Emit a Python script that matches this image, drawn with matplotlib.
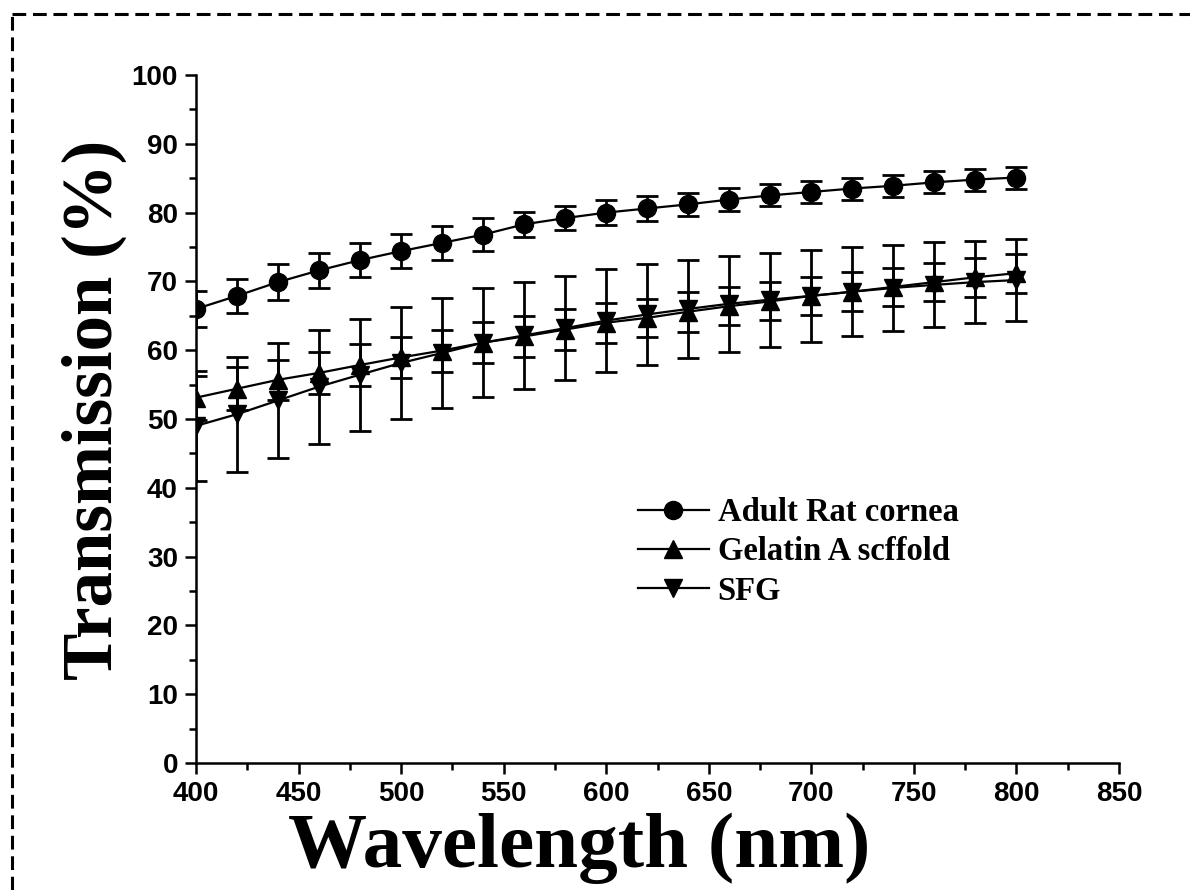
import matplotlib
matplotlib.use("Agg")
import matplotlib.pyplot as plt
from matplotlib.ticker import MultipleLocator
from matplotlib.lines import Line2D

wavelength = [400, 420, 440, 460, 480, 500, 520, 540, 560, 580, 600,
              620, 640, 660, 680, 700, 720, 740, 760, 780, 800]

rat = [66.0, 67.9, 69.9, 71.6, 73.1, 74.4, 75.6, 76.8, 78.3, 79.2, 80.0,
       80.6, 81.2, 81.9, 82.5, 83.0, 83.5, 83.9, 84.4, 84.8, 85.1]
rat_err = [2.6, 2.5, 2.6, 2.6, 2.5, 2.5, 2.5, 2.4, 1.8, 1.8, 1.8,
           1.8, 1.7, 1.7, 1.6, 1.6, 1.6, 1.6, 1.6, 1.6, 1.6]

gelatin = [53.1, 54.4, 55.7, 56.7, 57.85, 58.95, 59.95, 61.1, 62.0, 63.0, 64.0,
           64.7, 65.6, 66.4, 67.1, 67.9, 68.5, 69.2, 69.9, 70.6, 71.2]
gelatin_err = [3.2, 3.1, 2.9, 3.1, 3.05, 2.95, 3.05, 3.0, 3.0, 2.95, 2.9,
               2.8, 2.9, 2.8, 2.75, 2.8, 2.8, 2.75, 2.8, 2.85, 2.85]

sfg = [49.0, 50.7, 52.7, 54.7, 56.45, 58.15, 59.6, 61.1, 62.15, 63.2, 64.3,
       65.2, 66.0, 66.75, 67.35, 67.9, 68.5, 69.05, 69.5, 69.9, 70.2]
sfg_err = [8.0, 8.35, 8.4, 8.3, 8.15, 8.15, 8.0, 7.9, 7.8, 7.6, 7.45,
           7.3, 7.1, 6.95, 6.85, 6.7, 6.5, 6.25, 6.2, 6.0, 5.9]

labels = ["Adult Rat cornea", "Gelatin A scffold", "SFG"]
markers = ["o", "^", "v"]

fig = plt.figure(figsize=(11.9, 8.9), dpi=100)
ax = fig.add_axes([196/1190, 1-763/890, (1119-196)/1190, (763-75)/890])

series = [(rat, rat_err), (gelatin, gelatin_err), (sfg, sfg_err)]
for (vals, errs), m in zip(series, markers):
    ax.errorbar(wavelength, vals, yerr=errs, fmt="-", marker=m, color="black",
                markersize=13, linewidth=1.6, elinewidth=2.0, capsize=8,
                capthick=2.0, ecolor="black", zorder=3)

ax.set_xlim(400, 850)
ax.set_ylim(0, 100)
ax.xaxis.set_major_locator(MultipleLocator(50))
ax.xaxis.set_minor_locator(MultipleLocator(25))
ax.yaxis.set_major_locator(MultipleLocator(10))
ax.yaxis.set_minor_locator(MultipleLocator(5))

for s in ["top", "right"]:
    ax.spines[s].set_visible(False)
for s in ["left", "bottom"]:
    ax.spines[s].set_linewidth(1.8)

ax.tick_params(which="major", direction="out", length=8, width=1.8,
               labelsize=20, pad=5)
ax.tick_params(which="minor", direction="out", length=5, width=1.8)
for lab in ax.get_xticklabels() + ax.get_yticklabels():
    lab.set_fontweight("bold")
    lab.set_family("Liberation Sans")

ax.set_xlabel("Wavelength (nm)", fontsize=57, fontweight="bold",
              family="Liberation Serif", va="center", ha="center")
ax.xaxis.set_label_coords((579-196)/923, (763-848)/688)
ax.set_ylabel("Transmission (%)", fontsize=51, fontweight="bold",
              family="Liberation Serif", va="center", ha="center")
ax.yaxis.set_label_coords((94-196)/923, (763-410)/688)

handles = [Line2D([], [], color="black", marker=m, markersize=13, linewidth=1.6)
           for m in markers]
leg = ax.legend(handles, labels, loc="upper left",
                bbox_to_anchor=(0.4466, 0.429), frameon=False,
                prop={"family": "Liberation Serif", "weight": "bold", "size": 23.5},
                handlelength=2.2, handletextpad=0.25, labelspacing=0.25)

# dashed frame around the figure
fig.add_artist(Line2D([12/1190, 1.0], [1-14/890, 1-14/890], transform=fig.transFigure,
                      color="black", linestyle=(0, (4.5, 2.2)), linewidth=2.2))
fig.add_artist(Line2D([12/1190, 12/1190], [0.0, 1-14/890], transform=fig.transFigure,
                      color="black", linestyle=(0, (4.5, 2.2)), linewidth=2.2))

fig.savefig("out.png", dpi=100)
